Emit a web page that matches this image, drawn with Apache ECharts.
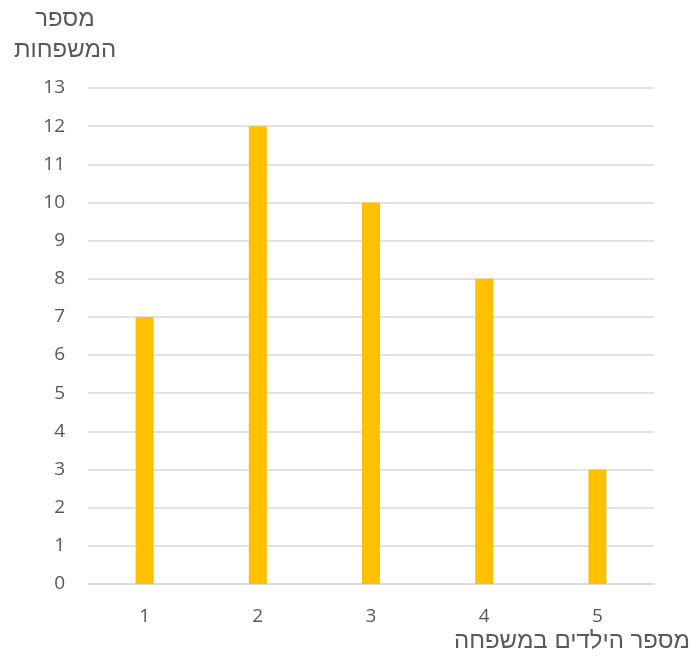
<!DOCTYPE html>
<html>
<head>
<meta charset="utf-8">
<script src="https://cdn.jsdelivr.net/npm/echarts@6/dist/echarts.min.js"></script>
<style>
  html, body { margin: 0; padding: 0; background: #fff; }
  #chart { width: 694px; height: 658px; }
</style>
</head>
<body>
<div id="chart"></div>
<script>
let categories = ["1", "2", "3", "4", "5"];
let families = [7, 12, 10, 8, 3];
let yTitle = ["מספר", "המשפחות"];
let xTitle = "מספר הילדים במשפחה";

let font = "Open Sans";
let hebFont = "Liberation Sans";
let grey = "#595959";

echarts.init(document.getElementById("chart")).setOption({
  animation: false,
  grid: {
    left: 88,
    right: 40,
    top: 88,
    bottom: 74,
  },
  xAxis: {
    type: "category",
    data: categories,
    axisLine: { lineStyle: { color: "#d9d9d9", width: 1.5 } },
    axisTick: { show: false },
    axisLabel: {
      color: grey,
      fontSize: 19,
      fontFamily: font,
      margin: 23,
    },
  },
  yAxis: {
    type: "value",
    min: 0,
    max: 13,
    interval: 1,
    axisLine: { show: false },
    axisTick: { show: false },
    splitLine: { lineStyle: { color: "#d9d9d9", width: 1.5 } },
    axisLabel: {
      color: grey,
      fontSize: 19,
      fontFamily: font,
      margin: 23,
    },
  },
  graphic: [
    {
      type: "text",
      style: {
        text: yTitle.join("\n"),
        x: 65,
        y: 4,
        align: "center",
        fill: grey,
        fontSize: 24,
        fontFamily: hebFont,
        lineHeight: 31,
      },
    },
    {
      type: "text",
      style: {
        text: xTitle,
        x: 690,
        y: 629,
        align: "right",
        fill: grey,
        fontSize: 24,
        fontFamily: hebFont,
      },
    },
  ],
  series: [
    {
      type: "bar",
      data: families,
      barWidth: 18,
      itemStyle: { color: "#FFC000" },
    },
  ],
});
</script>
</body>
</html>
